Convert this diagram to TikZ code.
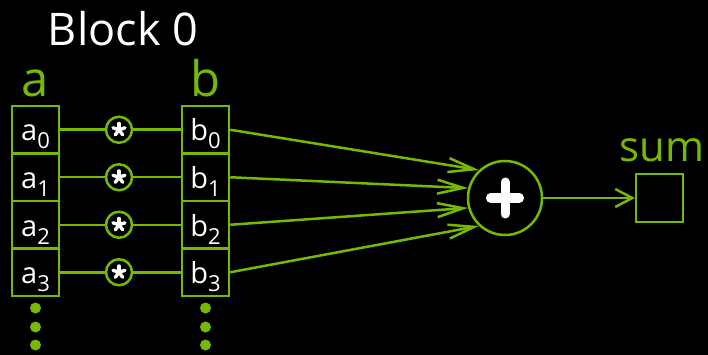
\documentclass[tikz,border=0pt]{standalone}
\usepackage{fontspec}
\setmainfont{Open Sans}
\usetikzlibrary{arrows.meta}
\definecolor{nvgreen}{HTML}{76B900}
\newcommand{\cellsub}[2]{#1\raisebox{-8pt}{\fontsize{22}{22}\selectfont #2}}
\begin{document}
\begin{tikzpicture}[x=1pt,y=-1pt,
  wire/.style={draw=nvgreen,line width=2.5pt},
  cell/.style={draw=nvgreen,line width=2.5pt,minimum width=47pt,minimum height=47.5pt,
    inner sep=0pt,text=white,font=\fontsize{29}{29}\selectfont,text height=30pt,text depth=7.5pt},
  mul/.style={circle,draw=nvgreen,line width=2.5pt,minimum size=26pt,inner sep=0pt},
  adder/.style={circle,draw=nvgreen,line width=2.5pt,minimum size=74pt,inner sep=0pt},
  sign/.style={white,line cap=round},
  lab/.style={text=nvgreen,anchor=base,inner sep=0pt},
  dot/.style={circle,fill=nvgreen,minimum size=11pt,inner sep=0pt},
  toadd/.style={wire,-{Straight Barb[length=26pt,width=14pt]}},
  tosum/.style={wire,-{Straight Barb[length=17pt,width=18pt]}}]
% background and page size
\fill[black] (0,0) rectangle (708,355);
\useasboundingbox (0,0) rectangle (708,355);

% headings
\node[anchor=base,inner sep=0pt,text=white,font=\fontsize{45}{45}\selectfont] (title) at (123,46) {Block 0};
\node[lab,font=\fontsize{49}{49}\selectfont] (alab) at (35.5,97) {a};
\node[lab,font=\fontsize{49}{49}\selectfont] (blab) at (205.5,97) {b};
\node[lab,font=\fontsize{42}{42}\selectfont] (sumlab) at (662,162) {sum};

% vector cells, multipliers and wires
\foreach \i/\y in {0/129.75,1/177.25,2/224.75,3/272.25}{
  \node[cell] (a\i) at (35.5,\y) {\cellsub{a}{\i}};
  \node[cell] (b\i) at (205.5,\y) {\cellsub{b}{\i}};
  \node[mul] (m\i) at (119,\y) {};
  \draw[wire] (a\i.east) -- (m\i.west);
  \draw[wire] (m\i.east) -- (b\i.west);
  \foreach \ang in {-90,-18,54,126,198}
    \draw[sign,line width=3.4pt] (m\i.center) -- ++(\ang:6.3);
}

% continuation dots
\foreach \k/\y in {1/308,2/327,3/345}{
  \node[dot] (ad\k) at (35.5,\y) {};
  \node[dot] (bd\k) at (205.5,\y) {};
}

% adder
\node[adder] (plus) at (505,198) {};
\draw[sign,line width=9pt] (plus.center) ++(-14.5,0) -- ++(29,0);
\draw[sign,line width=9pt] (plus.center) ++(0,-16) -- ++(0,32);

\draw[toadd] (b0.east) -- (plus.133);
\draw[toadd] (b1.east) -- (plus.165);
\draw[toadd] (b2.east) -- (plus.195);
\draw[toadd] (b3.east) -- (plus.227);

% result
\node[cell,minimum width=47pt,minimum height=48pt,line width=2.2pt] (sum) at (659.5,198) {};
\draw[tosum] (plus.east) -- (sum.west);
\end{tikzpicture}
\end{document}
